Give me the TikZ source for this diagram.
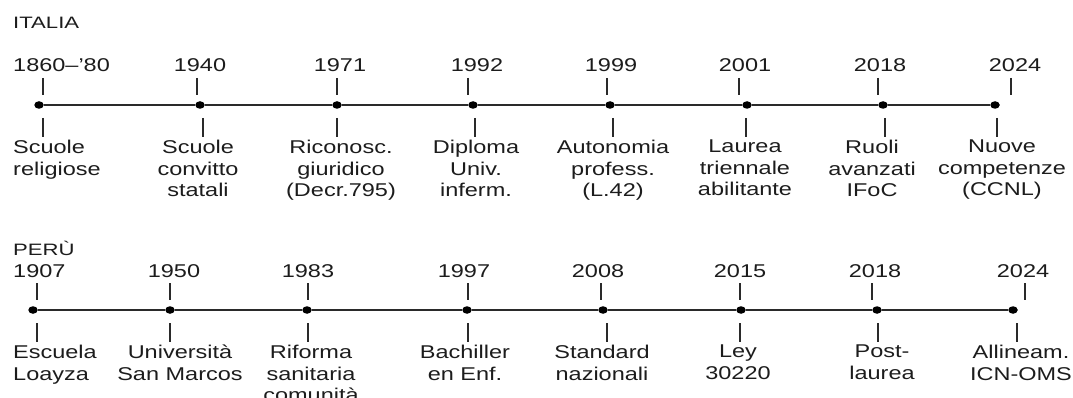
\documentclass[tikz,border=0pt]{standalone}
\usepackage{fontspec}
\setmainfont{Liberation Sans}[FakeStretch=1.27]
\newfontfamily\plainfont{Liberation Sans}
\usetikzlibrary{shapes.geometric}
\definecolor{ink}{HTML}{1C1C1C}
\definecolor{linec}{HTML}{2A2A2A}
\newcommand{\ttltext}[1]{\scalebox{1.34}[1]{\plainfont #1}}
\begin{document}
\begin{tikzpicture}[x=1pt,y=-1pt,
  txt/.style={text=ink, inner sep=0pt, font=\fontsize{18.5}{21.5}\selectfont},
  ttl/.style={text=ink, inner sep=0pt, font=\fontsize{16.5}{20}\selectfont, anchor=base west},
  yr/.style={txt, anchor=base},
  yrl/.style={txt, anchor=base west},
  lbl/.style={txt, anchor=north, align=center},
  lbll/.style={txt, anchor=north west, align=left},
  tickln/.style={draw=linec, line width=1.3pt},
  axisln/.style={draw=linec, line width=1.1pt},
  dotn/.style={shape=ellipse, fill=black, inner sep=0pt, minimum width=9.5pt, minimum height=7.5pt}]
\useasboundingbox (0,0) rectangle (1073,398);
\clip (0,0) rectangle (1073,398);

% ---------------- ITALIA ----------------
\node[ttl] (titA) at (13,28.5) {\ttltext{ITALIA}};
\node[yrl] (iy1) at (13,71.5) {1860--'80};
\foreach \i/\x/\t in {2/200/1940,3/340/1971,4/477/1992,5/611/1999,6/745/2001,7/880/2018,8/1015/2024}
  \node[yr] (iy\i) at (\x,71.5) {\t};
\foreach \i/\x in {1/39,2/200,3/337,4/473,5/610,6/747,7/883,8/995}
  \node[dotn] (id\i) at (\x,105) {};
\foreach \i [evaluate=\i as \j using int(\i+1)] in {1,...,7}
  \draw[axisln] (id\i) -- (id\j);
\foreach \x in {43,197,337,468,607,739,878,1011}
  \draw[tickln] (\x,78) -- (\x,95);
\foreach \x in {43,203,337,475,613,746,885,997}
  \draw[tickln] (\x,118) -- (\x,137);
\node[lbll] (il1) at (13,140) {Scuole\\religiose};
\node[lbl] (il2) at (198,140) {Scuole\\convitto\\statali};
\node[lbl] (il3) at (341,140) {Riconosc.\\giuridico\\(Decr.795)};
\node[lbl] (il4) at (476,140) {Diploma\\Univ.\\inferm.};
\node[lbl] (il5) at (613,140) {Autonomia\\profess.\\(L.42)};
\node[lbl] (il6) at (745,140) {Laurea\\triennale\\abilitante};
\node[lbl] (il7) at (872,140) {Ruoli\\avanzati\\IFoC};
\node[lbl] (il8) at (1002,140) {Nuove\\competenze\\(CCNL)};

% ---------------- PERU ----------------
\node[ttl] (titB) at (13,255.5) {\ttltext{PERÙ}};
\node[yrl] (py1) at (13,277) {1907};
\foreach \i/\x/\t in {2/174/1950,3/308/1983,4/464/1997,5/598/2008,6/740/2015,7/875/2018,8/1023/2024}
  \node[yr] (py\i) at (\x,277) {\t};
\foreach \i/\x in {1/33,2/170,3/307,4/467,5/603,6/741,7/877,8/1013}
  \node[dotn] (pd\i) at (\x,310) {};
\foreach \i [evaluate=\i as \j using int(\i+1)] in {1,...,7}
  \draw[axisln] (pd\i) -- (pd\j);
\foreach \x in {37,170,308,468,601,740,872,1025}
  \draw[tickln] (\x,283) -- (\x,300);
\foreach \x in {37,170,308,468,607,740,878,1017}
  \draw[tickln] (\x,323) -- (\x,342);
\node[lbll] (pl1) at (13,345) {Escuela\\Loayza};
\node[lbl] (pl2) at (180,345) {Università\\San Marcos};
\node[lbl] (pl3) at (311,345) {Riforma\\sanitaria\\comunità};
\node[lbl] (pl4) at (465,345) {Bachiller\\en Enf.};
\node[lbl] (pl5) at (602,345) {Standard\\nazionali};
\node[lbl] (pl6) at (738,345) {Ley\\30220};
\node[lbl] (pl7) at (882,345) {Post-\\laurea};
\node[lbl] (pl8) at (1021,345) {Allineam.\\ICN-OMS};
\end{tikzpicture}
\end{document}
